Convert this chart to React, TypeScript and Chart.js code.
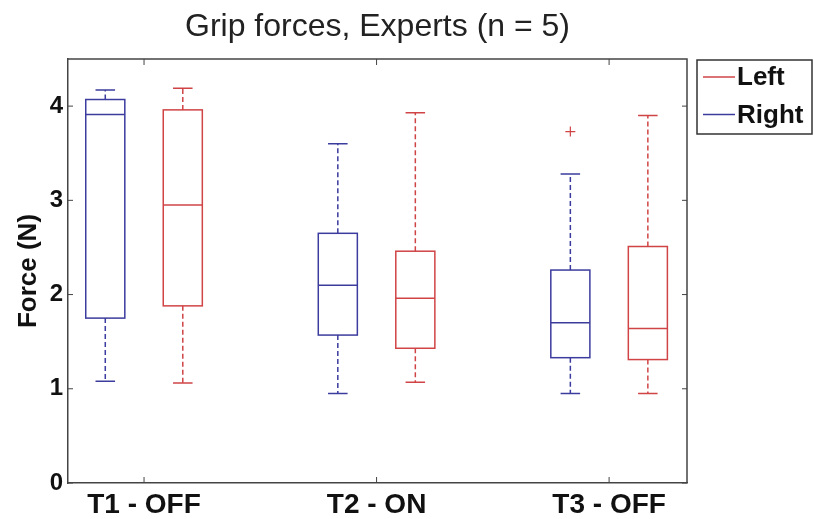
import React, { useEffect, useRef } from "react";
import { Chart, registerables } from "chart.js";

Chart.register(...registerables);

const titleText = "Grip forces, Experts (n = 5)";
const yAxisTitle = "Force (N)";
const categories = ["T1 - OFF", "T2 - ON", "T3 - OFF"];
const yTicks = [0, 1, 2, 3, 4];

const seriesNames = ["Left", "Right"];
const seriesColors = ["#d04446", "#3c3c9e"];

// Right hand (blue)
const rightMin = [1.08, 0.95, 0.95];
const rightQ1 = [1.75, 1.57, 1.33];
const rightMed = [3.91, 2.1, 1.7];
const rightQ3 = [4.07, 2.65, 2.26];
const rightMax = [4.17, 3.6, 3.28];
const rightOutliers = [[], [], [3.73]];

// Left hand (red)
const leftMin = [1.06, 1.07, 0.95];
const leftQ1 = [1.88, 1.43, 1.31];
const leftMed = [2.95, 1.96, 1.64];
const leftQ3 = [3.96, 2.46, 2.51];
const leftMax = [4.19, 3.93, 3.9];
const leftOutliers = [[], [], []];

const FONT = "'Liberation Sans', Arial, Helvetica, sans-serif";
const OFFSET = 1 / 6;
const HALF_W = 0.084;

type Stats = { min: number[]; q1: number[]; med: number[]; q3: number[]; max: number[]; out: number[][] };
const boxSeries: { name: string; color: string; offset: number; s: Stats }[] = [
  { name: "Right", color: seriesColors[1], offset: -OFFSET, s: { min: rightMin, q1: rightQ1, med: rightMed, q3: rightQ3, max: rightMax, out: rightOutliers } },
  { name: "Left", color: seriesColors[0], offset: OFFSET, s: { min: leftMin, q1: leftQ1, med: leftMed, q3: leftQ3, max: leftMax, out: leftOutliers } },
];

const boxPlugin = {
  id: "boxPlugin",
  afterDatasetsDraw(chart: any) {
    const { ctx, scales, chartArea } = chart;
    const xs = scales.x;
    const ys = scales.y;
    ctx.save();
    ctx.lineWidth = 1.5;
    boxSeries.forEach((ser) => {
      categories.forEach((_, i) => {
        const c = i + 1 + ser.offset;
        const xl = xs.getPixelForValue(c - HALF_W);
        const xr = xs.getPixelForValue(c + HALF_W);
        const xc = xs.getPixelForValue(c);
        const capL = xs.getPixelForValue(c - HALF_W / 2);
        const capR = xs.getPixelForValue(c + HALF_W / 2);
        const yq1 = ys.getPixelForValue(ser.s.q1[i]);
        const yq3 = ys.getPixelForValue(ser.s.q3[i]);
        const ym = ys.getPixelForValue(ser.s.med[i]);
        const ymin = ys.getPixelForValue(ser.s.min[i]);
        const ymax = ys.getPixelForValue(ser.s.max[i]);
        ctx.strokeStyle = ser.color;
        ctx.setLineDash([5, 3]);
        ctx.beginPath();
        ctx.moveTo(xc, yq3);
        ctx.lineTo(xc, ymax);
        ctx.moveTo(xc, yq1);
        ctx.lineTo(xc, ymin);
        ctx.stroke();
        ctx.setLineDash([]);
        ctx.beginPath();
        ctx.moveTo(capL, ymax);
        ctx.lineTo(capR, ymax);
        ctx.moveTo(capL, ymin);
        ctx.lineTo(capR, ymin);
        ctx.stroke();
        ctx.strokeRect(xl, yq3, xr - xl, yq1 - yq3);
        ctx.beginPath();
        ctx.moveTo(xl, ym);
        ctx.lineTo(xr, ym);
        ctx.stroke();
      });
    });
    // frame: top and right
    ctx.strokeStyle = "#444";
    ctx.lineWidth = 1.5;
    ctx.beginPath();
    ctx.moveTo(chartArea.left, chartArea.top);
    ctx.lineTo(chartArea.right, chartArea.top);
    ctx.lineTo(chartArea.right, chartArea.bottom);
    ctx.stroke();
    // inward ticks
    ctx.lineWidth = 1;
    ctx.beginPath();
    categories.forEach((_, i) => {
      const px = xs.getPixelForValue(i + 1);
      ctx.moveTo(px, chartArea.bottom);
      ctx.lineTo(px, chartArea.bottom - 6);
      ctx.moveTo(px, chartArea.top);
      ctx.lineTo(px, chartArea.top + 6);
    });
    yTicks.forEach((v) => {
      const py = ys.getPixelForValue(v);
      ctx.moveTo(chartArea.left, py);
      ctx.lineTo(chartArea.left + 5, py);
      ctx.moveTo(chartArea.right, py);
      ctx.lineTo(chartArea.right - 5, py);
    });
    ctx.stroke();

    // title centred over the plot area
    ctx.fillStyle = "#222";
    ctx.font = `32px ${FONT}`;
    ctx.textAlign = "center";
    ctx.textBaseline = "alphabetic";
    ctx.fillText(titleText, (chartArea.left + chartArea.right) / 2, 36);

    // legend
    const lx = chartArea.right + 10;
    const ly = chartArea.top + 1;
    const lw = 115;
    const lh = 74;
    ctx.strokeStyle = "#333";
    ctx.lineWidth = 1.5;
    ctx.strokeRect(lx, ly, lw, lh);
    ctx.font = `bold 26px ${FONT}`;
    ctx.textAlign = "left";
    ctx.textBaseline = "middle";
    ctx.fillStyle = "#111";
    seriesNames.forEach((name, k) => {
      const yy = ly + 17 + k * 37.5;
      ctx.strokeStyle = seriesColors[k];
      ctx.lineWidth = 1.5;
      ctx.beginPath();
      ctx.moveTo(lx + 6, yy);
      ctx.lineTo(lx + 38, yy);
      ctx.stroke();
      ctx.fillText(name, lx + 40, yy + 1);
    });
    ctx.restore();
  },
};

export default function App() {
  const ref = useRef<HTMLCanvasElement | null>(null);
  useEffect(() => {
    document.body.style.margin = "0";
    if (!ref.current) return;
    const outlierData: { x: number; y: number }[] = [];
    boxSeries.forEach((ser) => {
      ser.s.out.forEach((arr, i) => {
        arr.forEach((v) => outlierData.push({ x: i + 1 + ser.offset, y: v }));
      });
    });
    const chart = new Chart(ref.current, {
      type: "scatter",
      data: {
        datasets: [
          {
            label: "outliers",
            data: outlierData,
            pointStyle: "cross",
            radius: 5,
            borderColor: seriesColors[0],
            borderWidth: 1.2,
            backgroundColor: seriesColors[0],
          } as any,
        ],
      },
      plugins: [boxPlugin],
      options: {
        animation: false,
        responsive: false,
        layout: { padding: { left: 0, right: 127, top: 59, bottom: 0 } },
        plugins: {
          legend: { display: false },
          tooltip: { enabled: false },
          title: { display: false },
        },
        scales: {
          x: {
            type: "linear",
            min: 0.673,
            max: 3.335,
            afterBuildTicks: (s: any) => {
              s.ticks = categories.map((_, i) => ({ value: i + 1 }));
            },
            afterFit: (s: any) => {
              s.height = 36;
            },
            grid: { display: false, drawTicks: false, tickLength: 0 },
            border: { display: true, color: "#444", width: 1.5 },
            ticks: {
              padding: 5,
              color: "#111",
              font: { family: FONT, size: 28, weight: "bold" as any },
              maxRotation: 0,
              autoSkip: false,
              callback: (v: any) => categories[Math.round(Number(v)) - 1] ?? "",
            },
          },
          y: {
            type: "linear",
            min: 0,
            max: 4.5,
            afterBuildTicks: (s: any) => {
              s.ticks = yTicks.map((v) => ({ value: v }));
            },
            afterFit: (s: any) => {
              s.width = 68;
            },
            grid: { display: false, drawTicks: false, tickLength: 0 },
            border: { display: true, color: "#444", width: 1.5 },
            ticks: {
              padding: 5,
              color: "#111",
              font: { family: FONT, size: 24, weight: "bold" as any },
              callback: (v: any) => String(v),
            },
            title: {
              display: true,
              text: yAxisTitle,
              color: "#111",
              font: { family: FONT, size: 26, weight: "bold" as any, lineHeight: 1.2 },
              padding: { top: 13, bottom: 0 },
            },
          },
        },
      },
    });
    return () => chart.destroy();
  }, []);
  return (
    <div style={{ width: 814, height: 519 }}>
      <canvas ref={ref} width={814} height={519} />
    </div>
  );
}
